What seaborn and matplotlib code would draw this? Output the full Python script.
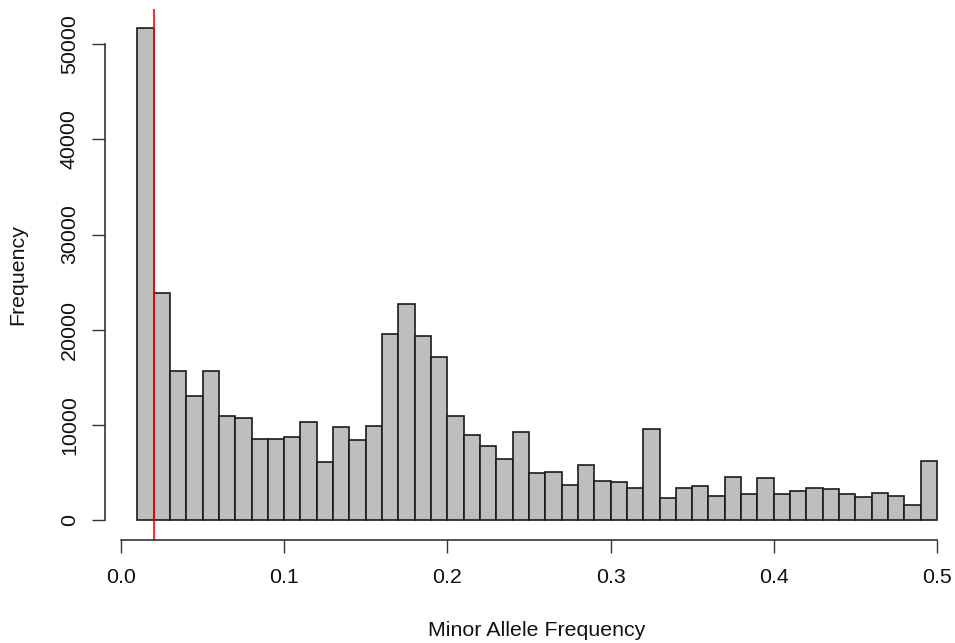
import numpy as np
import pandas as pd
import seaborn as sns
import matplotlib
matplotlib.use("Agg")
import matplotlib.pyplot as plt

# Histogram of minor allele frequencies, 0.01-wide bins from 0.01 to 0.50
bin_edges = [round(0.01 * i, 2) for i in range(1, 51)]
counts = [
    51630, 23840, 15700, 13030, 15670, 10930, 10710, 8580, 8500, 8720,
    10280, 6080, 9770, 8390, 9950, 19570, 22720, 19330, 17120, 10960,
    9000, 7770, 6440, 9240, 5010, 5110, 3750, 5850, 4130, 3990,
    3430, 9560, 2360, 3400, 3570, 2590, 4590, 2800, 4410, 2800,
    3120, 3430, 3290, 2800, 2420, 2870, 2590, 1650, 6270,
]
maf_threshold = 0.02
x_ticks = [0.0, 0.1, 0.2, 0.3, 0.4, 0.5]
x_tick_labels = ["0.0", "0.1", "0.2", "0.3", "0.4", "0.5"]
y_ticks = [0, 10000, 20000, 30000, 40000, 50000]

df = pd.DataFrame({
    "maf": [(a + b) / 2 for a, b in zip(bin_edges[:-1], bin_edges[1:])],
    "count": counts,
})

sns.set_style("white")
plt.rcParams["font.family"] = ["Liberation Sans", "DejaVu Sans"]

W, H = 955, 643
FS = 15.4
fig = plt.figure(figsize=(W / 100, H / 100), dpi=100)
# plot region in pixels: left 105.3, right edge of figure, top 8.8, bottom 540
left_px, top_px, bottom_px = 105.3, 8.8, 540.0
ax = fig.add_axes([left_px / W, 1 - bottom_px / H,
                   (W - left_px) / W, (bottom_px - top_px) / H])

sns.histplot(data=df, x="maf", weights="count", bins=bin_edges,
             color="#BEBEBE", edgecolor="#1a1a1a", linewidth=1.2,
             alpha=1.0, ax=ax)

ax.axvline(maf_threshold, color="red", linewidth=1.2)

# axis limits with R-style 4% padding
xr = bin_edges[-1] - bin_edges[0]
xlo = bin_edges[0] - 0.04 * xr
px_per_unit = (937 - 121) / 0.5
ax.set_xlim(xlo, xlo + (W - left_px) / px_per_unit)
ymax = max(counts)
ax.set_ylim(-0.04 * ymax, ymax * 1.04)

for s in ["top", "right"]:
    ax.spines[s].set_visible(False)
for s in ["left", "bottom"]:
    ax.spines[s].set_color("#333333")
    ax.spines[s].set_linewidth(1.2)
ax.spines["bottom"].set_bounds(0.0, 0.5)
ax.spines["left"].set_bounds(0, 50000)

ax.set_xticks(x_ticks)
ax.set_xticklabels(x_tick_labels)
ax.set_yticks(y_ticks)
ax.set_yticklabels([str(v) for v in y_ticks], rotation=90, va="center")
ax.tick_params(axis="both", direction="out", length=9.5, width=1.0,
               color="#333333", labelsize=FS, labelcolor="#111111",
               bottom=True, left=True)
ax.tick_params(axis="x", pad=11)
ax.tick_params(axis="y", pad=9.5)
ax.grid(False)

ax.set_xlabel("Minor Allele Frequency", fontsize=FS, color="#111111", va="center")
ax.set_ylabel("Frequency", fontsize=FS, color="#111111", va="center")
ax_w = W - left_px
ax_h = bottom_px - top_px
ax.xaxis.set_label_coords((537 - left_px) / ax_w, (bottom_px - 631) / ax_h)
ax.yaxis.set_label_coords((18 - left_px) / ax_w, 0.5)

fig.savefig("out.png", dpi=100, facecolor="white")
